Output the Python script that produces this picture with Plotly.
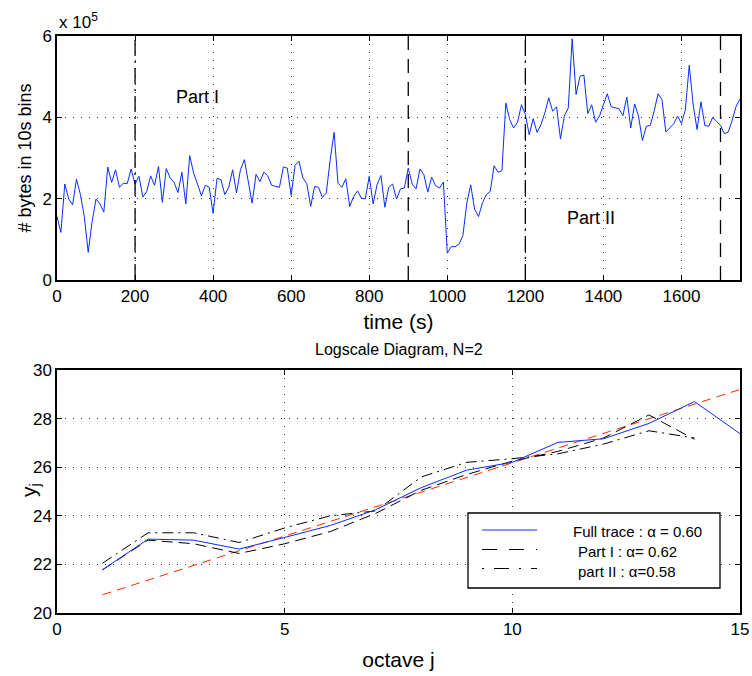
import numpy as np
import plotly.graph_objects as go

# ---------------- data ----------------
# top panel: bytes per 10 s bin (units of 1e5 bytes), bins every 10 s from 0 to 1750
bin_start = 0
bin_step = 10
bytes_e5 = [
    1.56, 1.17, 2.36, 1.99, 1.85, 2.48, 2.10, 1.56, 0.68, 1.44,
    1.99, 1.87, 1.67, 2.78, 2.40, 2.71, 2.28, 2.38, 2.37, 2.73,
    2.36, 2.55, 2.04, 2.18, 2.56, 2.33, 2.79, 1.91, 2.74, 2.51,
    2.40, 2.15, 2.65, 1.87, 3.06, 2.63, 2.36, 2.07, 2.33, 2.28,
    1.64, 2.50, 2.47, 2.10, 2.28, 2.71, 2.14, 2.71, 2.96, 2.42,
    1.89, 2.60, 2.42, 2.65, 2.56, 2.33, 2.30, 2.28, 2.78, 2.75,
    2.08, 2.82, 2.92, 2.51, 2.37, 1.81, 2.30, 2.28, 2.03, 2.14,
    2.96, 3.63, 2.38, 2.28, 2.49, 1.81, 2.05, 2.19, 2.01, 2.00,
    2.55, 1.87, 2.34, 2.57, 1.79, 2.28, 2.36, 1.99, 2.24, 2.26,
    2.75, 2.36, 2.24, 2.73, 2.59, 2.16, 2.53, 2.32, 2.26, 2.41,
    0.66, 0.82, 0.82, 0.88, 1.09, 1.89, 2.34, 1.74, 1.56, 1.89,
    2.10, 2.18, 2.81, 2.65, 2.69, 4.35, 3.94, 3.74, 3.88, 4.31,
    4.07, 3.57, 3.97, 3.63, 3.82, 4.11, 4.48, 4.15, 4.26, 3.47,
    4.03, 4.23, 5.93, 4.56, 5.01, 5.04, 4.09, 4.31, 3.88, 4.03,
    4.31, 4.58, 4.26, 4.23, 4.21, 4.04, 4.50, 3.74, 4.33, 4.03,
    3.43, 3.78, 3.80, 4.15, 4.58, 4.44, 3.64, 3.74, 3.84, 4.03,
    3.85, 4.19, 5.28, 4.31, 3.70, 4.38, 3.80, 3.78, 4.00, 3.90,
    3.80, 3.60, 3.64, 3.93, 4.27, 4.45,
]
times = [bin_start + bin_step * i for i in range(len(bytes_e5))]

# part boundaries (s) and their line styles
bound_t = [200, 900, 1200, 1700]
bound_kind = ["dashdot", "dash", "dashdot", "dash"]

part_labels = ["Part I", "Part II"]
part_label_t = [360, 1367]
part_label_y = [4.49, 1.52]

# bottom panel: logscale diagram
octaves = [1, 2, 3, 4, 5, 6, 7, 8, 9, 10, 11, 12, 13, 14, 15]
full_trace = [21.78, 23.04, 23.0, 22.63, 23.11, 23.6, 24.25, 25.16, 25.88, 26.2,
              27.02, 27.17, 27.8, 28.7, 27.38]
octaves_parts = [1, 2, 3, 4, 5, 6, 7, 8, 9, 10, 11, 12, 13, 14]
part1 = [21.78, 23.0, 22.85, 22.45, 22.85, 23.35, 24.1, 25.05, 25.7, 26.25,
         26.65, 27.2, 28.15, 27.15]
part2 = [22.05, 23.3, 23.3, 22.9, 23.5, 24.0, 24.2, 25.6, 26.2, 26.35,
         26.55, 26.95, 27.5, 27.2]
fit_j = [1, 15]
fit_y = [20.75, 29.2]

legend_names = ["Full trace : \u03b1 = 0.60", "Part I : \u03b1= 0.62", "part II : \u03b1=0.58"]

# ---------------- figure ----------------
FONT = "Liberation Sans, Arial, Helvetica, sans-serif"
DASH = "11px,6px"
DASHDOT = "11px,5px,2px,5px"
GRID = "1px,7px"
BLUE = "#0a2cff"

W, H = 752, 676
ML, MR, MT, MB = 57, 12, 36, 63
PW, PH = W - ML - MR, H - MT - MB


def px_x(px):
    """screen pixel x -> paper x"""
    return (px - ML) / PW


def px_y(py):
    """screen pixel y -> paper y"""
    return (H - MB - py) / PH


fig = go.Figure()

fig.add_trace(go.Scatter(x=times, y=bytes_e5, mode="lines",
                         line=dict(color=BLUE, width=1),
                         xaxis="x", yaxis="y", showlegend=False, hoverinfo="skip"))

for t, kind in zip(bound_t, bound_kind):
    fig.add_shape(type="line", xref="x", yref="y domain", x0=t, x1=t, y0=0, y1=1,
                  line=dict(color="black", width=1.3,
                            dash="16px,5px,2px,5px" if kind == "dashdot" else "14px,9px"))

for lab, tx, ty in zip(part_labels, part_label_t, part_label_y):
    fig.add_annotation(x=tx, y=ty, xref="x", yref="y", text=lab, showarrow=False,
                       font=dict(family=FONT, size=18, color="black"))

fig.add_trace(go.Scatter(x=fit_j, y=fit_y, mode="lines", showlegend=False,
                         line=dict(color="#ff2a00", width=1, dash="9px,6px"),
                         xaxis="x2", yaxis="y2", hoverinfo="skip"))
fig.add_trace(go.Scatter(x=octaves_parts, y=part1, mode="lines", name=legend_names[1],
                         showlegend=False,
                         line=dict(color="black", width=1, dash=DASH), xaxis="x2", yaxis="y2"))
fig.add_trace(go.Scatter(x=octaves_parts, y=part2, mode="lines", name=legend_names[2],
                         showlegend=False,
                         line=dict(color="black", width=1, dash=DASHDOT), xaxis="x2", yaxis="y2"))
fig.add_trace(go.Scatter(x=octaves, y=full_trace, mode="lines", name=legend_names[0],
                         showlegend=False,
                         line=dict(color=BLUE, width=1), xaxis="x2", yaxis="y2"))

axis_common = dict(showline=True, linecolor="black", linewidth=1.5, mirror="ticks",
                   ticks="inside", ticklen=5, tickcolor="black",
                   showgrid=True, gridcolor="#333333", gridwidth=1, griddash=GRID,
                   zeroline=False, automargin=False,
                   tickfont=dict(family=FONT, size=17, color="black"))

fig.update_layout(
    width=W, height=H,
    margin=dict(l=ML, r=MR, t=MT, b=MB, autoexpand=False),
    paper_bgcolor="white", plot_bgcolor="white",
    font=dict(family=FONT, color="black"),
    xaxis=dict(axis_common, domain=[0, 1], range=[0, 1750], tickvals=list(range(0, 1601, 200)),
               anchor="y",
               title=dict(text="time (s)", font=dict(family=FONT, size=21), standoff=9)),
    yaxis=dict(axis_common, domain=[px_y(280), 1], range=[0, 6], tickvals=[0, 2, 4, 6],
               anchor="x",
               title=dict(text="# bytes in 10s bins", font=dict(family=FONT, size=18), standoff=6)),
    xaxis2=dict(axis_common, domain=[0, 1], range=[0, 15], tickvals=[0, 5, 10, 15],
                anchor="y2",
                title=dict(text="octave j", font=dict(family=FONT, size=21), standoff=14)),
    yaxis2=dict(axis_common, domain=[0, px_y(370)], range=[20, 30],
                tickvals=[20, 22, 24, 26, 28, 30], anchor="x2"),
    showlegend=False,
)

# y_j title placed like the reference (close to the axis)
fig.add_annotation(xref="paper", yref="paper", x=px_x(30), y=px_y(490), textangle=-90,
                   xanchor="center", yanchor="middle",
                   text="y<sub>j</sub>", showarrow=False,
                   font=dict(family=FONT, size=21, color="black"))

fig.add_annotation(xref="paper", yref="paper", x=0, y=1, xanchor="left", yanchor="bottom",
                   yshift=2, text="x 10<sup>5</sup>", showarrow=False,
                   font=dict(family=FONT, size=17, color="black"))
fig.add_annotation(xref="x2 domain", yref="y2 domain", x=0.5, y=1, xanchor="center",
                   yanchor="bottom", yshift=10, text="Logscale Diagram, N=2", showarrow=False,
                   font=dict(family=FONT, size=16, color="black"))

# ---- legend (box, samples, labels) ----
fig.add_shape(type="rect", xref="paper", yref="paper",
              x0=px_x(468), x1=px_x(720), y0=px_y(588), y1=px_y(513),
              line=dict(color="black", width=1.3), fillcolor="white", layer="above")
leg_styles = [dict(color=BLUE, width=1),
              dict(color="black", width=1, dash="15px,12px"),
              dict(color="black", width=1, dash="2px,10px,15px,10px")]
leg_line_y = [530, 549.5, 568.5]
leg_text_y = [531.5, 551, 571]
leg_text_x = [571, 576, 576]
for name, st, ly, ty, tx in zip(legend_names, leg_styles, leg_line_y, leg_text_y, leg_text_x):
    fig.add_shape(type="line", xref="paper", yref="paper",
                  x0=px_x(482), x1=px_x(537), y0=px_y(ly), y1=px_y(ly),
                  line=st, layer="above")
    fig.add_annotation(xref="paper", yref="paper", x=px_x(tx), y=px_y(ty),
                       xanchor="left", yanchor="middle", text=name, showarrow=False,
                       font=dict(family=FONT, size=15, color="black"))

# remove the browser's default page margin so the figure fills the window exactly
fig.write_html("out.html",
               config={"displayModeBar": False},
               post_script="document.body.style.margin='0';"
                           "document.body.style.overflow='hidden';")
